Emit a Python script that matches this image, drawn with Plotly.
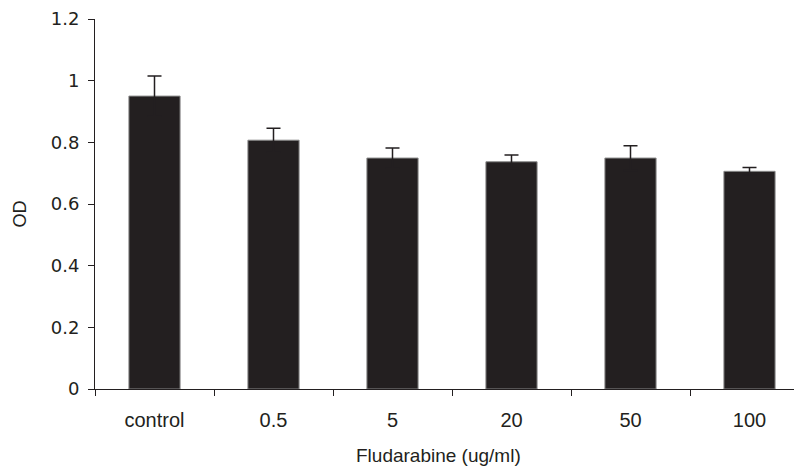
import plotly.graph_objects as go

categories = ["control", "0.5", "5", "20", "50", "100"]
od_values = [0.950, 0.807, 0.749, 0.737, 0.749, 0.706]
od_errors = [0.065, 0.039, 0.033, 0.022, 0.040, 0.012]
y_ticks = [0, 0.2, 0.4, 0.6, 0.8, 1.0, 1.2]
y_ticktext = ["0", "0.2", "0.4", "0.6", "0.8", "1", "1.2"]

OFF = 8  # page body margin in the browser
W, H = 802 - OFF, 470 - OFF
L, R, T, B = 95 - OFF, 0, 19 - OFF, 81
plot_w = W - L - R
plot_h = H - T - B
y0_px = T + plot_h + OFF  # page y of the zero line

fig = go.Figure()
fig.add_trace(go.Bar(
    x=categories,
    y=od_values,
    width=0.43,
    marker=dict(color="#231f20", line=dict(color="#8a8a8a", width=1)),
    error_y=dict(type="data", array=od_errors, symmetric=True,
                 color="#231f20", thickness=1.5, width=7),
))

fig.update_layout(
    width=W, height=H,
    margin=dict(l=L, r=R, t=T, b=B, pad=0),
    plot_bgcolor="white", paper_bgcolor="white",
    showlegend=False,
    font=dict(family="Liberation Sans, Arial, sans-serif", color="#231f20"),
    xaxis=dict(
        type="category", range=[-0.5, -0.5 + plot_w / 119.0],
        showline=True, linecolor="#231f20", linewidth=1,
        ticks="outside", tickson="boundaries", ticklen=6, tickcolor="#231f20",
        showgrid=False, zeroline=False,
        tickfont=dict(size=20, family="Liberation Sans, Arial, sans-serif", color="#231f20"),
        ticklabelstandoff=13,
    ),
    yaxis=dict(
        range=[0, 1.2], tickvals=y_ticks, ticktext=y_ticktext,
        showline=True, linecolor="#231f20", linewidth=1,
        ticks="outside", ticklen=6, tickcolor="#231f20",
        showgrid=False, zeroline=False,
        tickfont=dict(size=18, family="DejaVu Sans, sans-serif", color="#231f20"),
        ticklabelstandoff=5,
    ),
    annotations=[
        dict(text="OD", xref="paper", yref="paper",
             x=(19.5 - 95) / plot_w, y=(y0_px - 214) / plot_h,
             xanchor="center", yanchor="middle", textangle=-90, showarrow=False,
             font=dict(size=18, family="Liberation Sans, Arial, sans-serif", color="#231f20")),
        dict(text="Fludarabine (ug/ml)", xref="paper", yref="paper",
             x=(438 - 95) / plot_w, y=(y0_px - 455) / plot_h,
             xanchor="center", yanchor="middle", showarrow=False,
             font=dict(size=19, family="Liberation Sans, Arial, sans-serif", color="#231f20")),
    ],
)

fig.write_html("out.html")
